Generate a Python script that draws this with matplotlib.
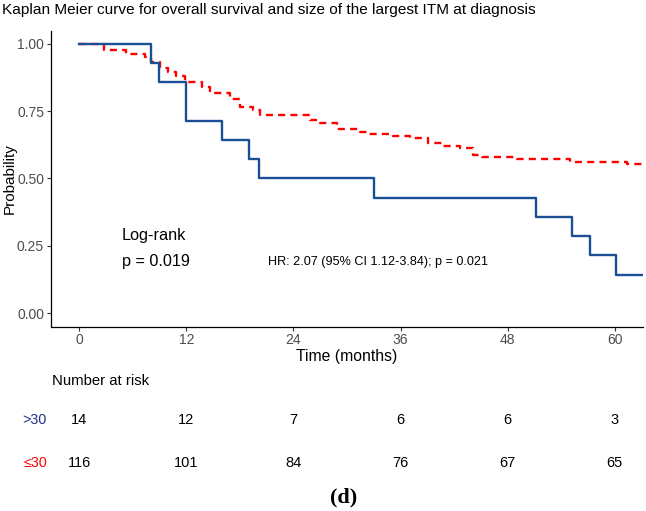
import matplotlib
matplotlib.use("Agg")
from matplotlib import pyplot as plt
from matplotlib.transforms import blended_transform_factory

plt.rcParams['font.family'] = ['Liberation Sans', 'DejaVu Sans']

# survival curve for size > 30 (n = 14)
t_big = [0, 8.0, 9.0, 12.0, 16.0, 19.0, 20.1, 33.0, 51.2, 55.2, 57.2, 60.1]
s_big = [1.0, 0.929, 0.857, 0.714, 0.643, 0.571, 0.500, 0.429, 0.357, 0.286, 0.214, 0.143]

# survival curve for size <= 30 (n = 116)
t_small = [0, 2.8, 5.2, 7.4, 8.0, 9.1, 9.9, 10.8, 11.9, 13.8, 14.7, 16.9, 18.0,
           19.5, 20.3, 25.9, 27.0, 28.9, 31.5, 32.3, 35.2, 37.0, 39.1, 40.8,
           42.7, 44.1, 45.1, 49.0, 55.0, 61.4]
s_small = [1.0, 0.978, 0.963, 0.952, 0.933, 0.911, 0.896, 0.881, 0.859, 0.840,
           0.818, 0.796, 0.766, 0.755, 0.736, 0.717, 0.706, 0.684, 0.673, 0.665,
           0.658, 0.650, 0.632, 0.621, 0.613, 0.587, 0.580, 0.572, 0.561, 0.554]
t_end = 63

risk_times = [0, 12, 24, 36, 48, 60]
risk_big = [14, 12, 7, 6, 6, 3]
risk_small = [116, 101, 84, 76, 67, 65]

yticks = [0.0, 0.25, 0.5, 0.75, 1.0]

blue = '#1a4f96'
red = '#ff0000'
navy = '#1f2f8c'

fig = plt.figure(figsize=(6.46, 5.11), dpi=100)
ax = fig.add_axes([51/646, 1 - 326.5/511, 592/646, 296/511])

ax.step(t_small + [t_end], s_small + [s_small[-1]], where='post',
        color=red, lw=1.7, dashes=(3, 2.2))
ax.step(t_big + [t_end], s_big + [s_big[-1]], where='post',
        color=blue, lw=1.7)

ax.set_xlim(-3.15, 63.15)
ax.set_ylim(-0.05, 1.05)
ax.set_xticks(risk_times)
ax.set_yticks(yticks)
ax.set_yticklabels(["%.2f" % v for v in yticks])
for side in ['top', 'right']:
    ax.spines[side].set_visible(False)
for side in ['left', 'bottom']:
    ax.spines[side].set_linewidth(0.9)
ax.tick_params(length=3, width=0.8, color='#333333', labelcolor='#4d4d4d',
               labelsize=10, pad=2)
ax.set_xlabel("Time (months)", fontsize=11.3, labelpad=1)
ax.set_ylabel("Probability", fontsize=11, labelpad=0)

ax.text(4.8, 0.29, "Log-rank", fontsize=11.7, va='center')
ax.text(4.8, 0.19, "p = 0.019", fontsize=11.7, va='center')
ax.text(21.1, 0.19, "HR: 2.07 (95% CI 1.12-3.84); p = 0.021", fontsize=9.1,
        va='center')

fig.text(2/646, 1 - 10/511, "Kaplan Meier curve for overall survival and size of the largest ITM at diagnosis",
         fontsize=11.1, va='center', ha='left')

# number at risk table
tr = blended_transform_factory(ax.transData, fig.transFigure)
fig.text(52/646, 1 - 381/511, "Number at risk", fontsize=10.7, va='center')
fig.text(47/646, 1 - 420/511, ">30", fontsize=10.3, va='center', ha='right', color=navy)
fig.text(47/646, 1 - 463/511, "\u226430", fontsize=10.3, va='center', ha='right', color=red)
for t, nb, ns in zip(risk_times, risk_big, risk_small):
    fig.text(t, 1 - 420/511, str(nb), transform=tr, fontsize=10.5, ha='center', va='center')
    fig.text(t, 1 - 463/511, str(ns), transform=tr, fontsize=10.5, ha='center', va='center')

fig.text(344/646, 1 - 497/511, "(d)", fontsize=16, fontweight='bold',
         family='Liberation Serif', ha='center', va='center')

fig.savefig('out.png', dpi=100)
